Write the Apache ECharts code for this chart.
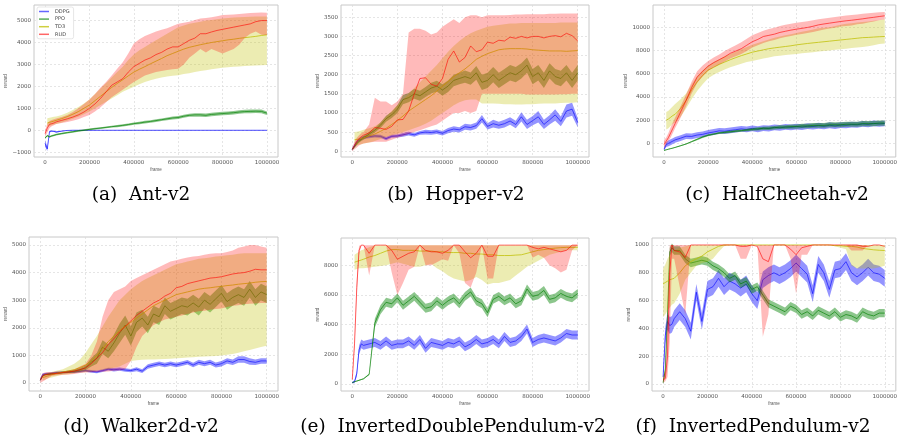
<!DOCTYPE html>
<html><head><meta charset="utf-8">
<script src="https://cdn.jsdelivr.net/npm/echarts@6/dist/echarts.min.js"></script>
<style>html,body{margin:0;padding:0;background:#fff}#c{width:900px;height:439px}</style>
</head><body><div id="c"></div>
<script>
// ---------- shared axes ----------
const X = [0,10000,20000,30000,40000,50000,
  75000,100000,125000,150000,175000,200000,225000,250000,275000,300000,
  325000,350000,375000,400000,425000,450000,475000,500000,525000,550000,
  575000,600000,625000,650000,675000,700000,725000,750000,775000,800000,
  825000,850000,875000,900000,925000,950000,975000,1000000];
const xTicks = [0,200000,400000,600000,800000,1000000];
const algoNames = ['DDPG','PPO','TD3','RUD'];
const captions = ['(a)  Ant-v2','(b)  Hopper-v2','(c)  HalfCheetah-v2','(d)  Walker2d-v2','(e)  InvertedDoublePendulum-v2','(f)  InvertedPendulum-v2'];
const yTicksA = [-1000,0,1000,2000,3000,4000,5000];
const yTicksB = [0,500,1000,1500,2000,2500,3000,3500];
const yTicksC = [0,2000,4000,6000,8000,10000];
const yTicksD = [0,1000,2000,3000,4000,5000];
const yTicksE = [0,2000,4000,6000,8000];
const yTicksF = [0,200,400,600,800,1000];

// ---------- (a) Ant-v2 ----------
const antDdpg = [-600,-850,-60,-40,-50,-80, -40,-10,0,0,0,0,0,0,0,0, 0,0,0,0,0,0,0,0,0,0, 0,0,0,0,0,0,0,0,0,0, 0,0,0,0,0,0,0,0];
const antDdpgDev = [150,100,40,30,30,30, 20,15,8,8,8,8,8,8,8,8, 8,8,8,8,8,8,8,8,8,8, 8,8,8,8,8,8,8,8,8,8, 8,8,8,8,8,8,8,8];
const antPpo = [-350,-250,-300,-260,-230,-200, -150,-110,-70,-30,0,40,70,100,130,160, 190,220,260,300,330,370,400,440,480,520, 560,580,640,680,700,700,680,720,740,760, 780,800,830,850,860,870,860,780];
const antPpoDev = [40,40,40,40,40,40, 40,40,40,40,40,40,40,40,40,40, 50,50,50,50,60,60,60,60,60,60, 70,70,70,70,80,80,80,80,80,80, 80,80,80,80,80,80,80,80];
const antTd3 = [null,330,360,390,420,450, 530,620,730,850,1000,1150,1350,1550,1750,1950, 2130,2300,2480,2650,2780,2900,3030,3150,3270,3400, 3500,3600,3700,3780,3840,3900,3950,4000,4040,4080, 4120,4150,4190,4220,4250,4280,4320,4350];
const antTd3Lo = [null,150,200,230,260,280, 350,430,520,620,730,850,1000,1150,1300,1450, 1600,1750,1870,1980,2100,2200,2280,2350,2400,2450, 2480,2510,2560,2600,2650,2700,2740,2780,2810,2850, 2870,2890,2910,2930,2940,2950,2960,2970];
const antTd3Hi = [null,550,570,590,610,630, 700,800,920,1060,1220,1400,1650,1900,2150,2400, 2650,2900,3200,3450,3650,3800,3950,4100,4250,4400, 4550,4700,4780,4850,4900,4950,5000,5030,5060,5100, 5120,5140,5150,5160,5170,5180,5180,5180];
const antRud = [-150,100,270,300,330,380, 450,520,600,700,830,1000,1200,1450,1750,2050, 2200,2350,2650,2900,3050,3200,3300,3450,3550,3700, 3800,3800,3950,4100,4200,4400,4400,4480,4550,4600, 4650,4700,4750,4800,4850,4950,5000,5000];
const antRudLo = [-300,-100,100,180,230,280, 330,380,430,500,600,700,850,1050,1280,1500, 1680,1850,2030,2200,2350,2500,2580,2650,2700,2750, 2780,2800,3000,3300,3500,3700,3550,3700,3600,3500, 3600,3700,3900,4200,4400,4500,4350,4340];
const antRudHi = [0,300,420,470,500,530, 600,700,830,1000,1200,1400,1650,1950,2200,2500, 2800,3100,3500,3950,4150,4300,4400,4500,4580,4650, 4750,4850,4900,4950,5030,5100,5120,5150,5200,5250, 5270,5280,5300,5320,5340,5360,5370,5360];

// ---------- (b) Hopper-v2 ----------
const hopDdpg = [50,150,250,300,330,360, 380,400,390,330,390,400,430,460,430,480, 500,490,510,470,540,580,560,640,620,670, 850,650,720,680,720,790,700,900,700,800, 900,700,820,950,780,1050,1100,750];
const hopDdpgDev = [30,40,40,40,40,40, 40,40,40,40,40,40,50,50,50,50, 60,60,60,60,70,70,70,80,80,80, 100,80,100,90,100,100,100,120,120,120, 150,120,120,150,130,170,170,120];
const hopPpo = [50,120,200,260,310,350, 450,550,680,850,950,1100,1350,1400,1500,1450, 1550,1650,1700,1600,1700,1850,1900,1950,1900,2050, 1800,1850,2000,1850,1950,2050,2000,2100,2250,1950, 2050,1850,2100,1950,1900,2050,1850,2050];
const hopPpoDev = [20,30,40,40,40,50, 60,60,70,80,80,100,120,120,130,130, 130,140,140,150,150,150,150,160,160,180, 200,200,200,200,200,200,200,200,200,200, 200,200,200,200,200,200,200,200];
const hopTd3 = [null,300,310,320,330,350, 400,450,520,600,700,800,920,1050,1150,1250, 1350,1450,1570,1700,1820,1950,2050,2150,2270,2400, 2480,2550,2600,2650,2670,2680,2680,2680,2670,2650, 2640,2630,2620,2620,2620,2610,2620,2630];
const hopTd3Lo = [null,150,160,170,180,200, 230,270,320,370,420,460,500,550,600,650, 720,800,900,1000,1100,1200,1280,1330,1350,1350, 1250,1250,1250,1240,1230,1230,1220,1220,1230,1230, 1240,1250,1250,1250,1260,1270,1270,1280];
const hopTd3Hi = [null,500,510,520,540,560, 600,650,750,900,1050,1200,1350,1500,1650,1800, 1950,2100,2250,2430,2600,2750,2880,2990,3080,3150, 3200,3250,3280,3300,3320,3340,3340,3350,3350,3350, 3350,3350,3350,3350,3360,3360,3360,3360];
const hopRud = [50,150,250,330,380,420, 480,620,600,570,650,820,830,1050,1500,1900, 1920,1750,1700,1900,2400,2620,2330,2450,2750,2600, 2650,2850,2820,2900,2880,2980,2950,3000,2960,3000, 3000,2960,3000,3020,2990,3080,3020,2880];
const hopRudLo = [0,50,100,150,180,200, 230,250,250,250,300,350,400,450,500,550, 600,650,700,800,900,1000,1000,1050,1000,1050, 1500,1500,1500,1500,1500,1500,1500,1500,1480,1480, 1480,1480,1480,1480,1490,1490,1500,1500];
const hopRudHi = [100,250,350,420,470,500, 700,1400,1300,1300,1200,1300,1500,3100,3200,3200, 3150,3050,3100,3250,3350,3450,3350,3500,3550,3550, 3500,3550,3550,3550,3550,3560,3570,3570,3580,3580, 3580,3580,3590,3590,3600,3600,3600,3600];

// ---------- (c) HalfCheetah-v2 ----------
const hcDdpg = [-500,-100,0,100,200,300, 450,620,600,720,780,900,980,1080,1050,1120, 1180,1250,1200,1300,1220,1320,1280,1380,1330,1420, 1380,1450,1400,1480,1450,1520,1470,1560,1500,1580, 1560,1620,1600,1680,1640,1720,1680,1720];
const hcDdpgDev = [100,200,250,250,250,250, 250,250,250,250,250,250,250,250,250,250, 250,250,250,250,250,250,250,250,250,250, 250,250,250,250,250,250,250,250,250,250, 250,250,250,250,250,250,250,250];
const hcPpo = [-600,-550,-500,-450,-400,-350, -200,-50,150,350,550,700,800,900,950,1000, 1050,1100,1150,1200,1250,1300,1300,1350,1400,1400, 1450,1450,1500,1500,1550,1550,1550,1600,1600,1600, 1650,1650,1650,1700,1700,1700,1750,1750];
const hcPpoDev = [30,30,30,30,30,30, 40,50,60,70,80,80,80,90,100,100, 100,100,110,120,130,140,150,150,160,170, 180,180,190,200,200,200,200,210,210,220, 220,220,220,220,230,230,230,230];
const hcTd3 = [null,2000,2100,2250,2400,2500, 3000,3700,4600,5300,5850,6300,6550,6800,7000,7200, 7380,7550,7700,7850,7950,8050,8150,8220,8280,8340, 8400,8480,8540,8600,8650,8700,8750,8800,8850,8900, 8950,9000,9050,9100,9120,9150,9180,9200];
const hcTd3Lo = [null,1200,1300,1500,1700,1800, 2300,3000,3800,4500,5100,5600,5900,6150,6350,6550, 6700,6850,7000,7100,7200,7300,7400,7500,7550,7600, 7650,7700,7750,7800,7850,7900,7950,8000,8050,8100, 8150,8200,8250,8300,8350,8450,8550,8600];
const hcTd3Hi = [null,2700,2800,3000,3200,3400, 3800,4300,5100,5800,6300,6700,7000,7250,7500,7700, 7900,8100,8300,8500,8650,8800,8950,9100,9200,9300, 9400,9500,9600,9700,9800,9900,9950,10000,10100,10200, 10300,10350,10400,10450,10500,10550,10600,10700];
const hcRud = [-100,200,500,900,1300,1700, 2700,3700,4800,5700,6200,6650,6950,7200,7450,7750, 7950,8150,8450,8750,8950,9200,9300,9400,9550,9650, 9750,9830,9900,9980,10080,10200,10280,10350,10420,10490, 10550,10600,10660,10720,10790,10850,10920,10980];
const hcRudLo = [-400,-100,200,500,900,1300, 2200,3200,4300,5200,5750,6250,6550,6800,7050,7300, 7500,7700,7950,8250,8450,8650,8800,8900,9050,9150, 9250,9350,9420,9500,9580,9700,9800,9880,9950,10050, 10100,10150,10250,10300,10400,10500,10600,10690];
const hcRudHi = [300,500,900,1400,1800,2200, 3200,4200,5300,6200,6700,7100,7400,7650,7950,8200, 8450,8700,9000,9300,9500,9700,9850,9950,10100,10200, 10300,10380,10450,10520,10600,10680,10750,10820,10880,10950, 11000,11050,11100,11150,11200,11250,11280,11300];

// ---------- (d) Walker2d-v2 ----------
const walkDdpg = [100,300,320,330,340,350, 380,390,400,400,420,450,420,400,450,500, 480,500,470,450,500,430,600,650,700,650, 700,650,700,750,650,750,700,750,650,700, 800,750,850,850,780,750,800,800];
const walkDdpgDev = [30,40,40,40,40,40, 40,40,40,40,40,40,50,50,50,50, 60,60,60,60,70,70,80,80,80,80, 80,80,80,80,80,90,90,90,90,100, 100,100,120,120,120,100,100,100];
const walkPpo = [100,250,300,310,320,330, 350,380,400,430,480,550,750,900,1300,1150, 1450,1800,2100,1700,2200,2350,2100,2500,2400,2800, 2600,2700,2800,2750,2900,2750,3000,2850,3050,3250, 2950,3100,3200,3100,3400,3100,3300,3200];
const walkPpoDev = [20,30,30,30,30,30, 30,40,40,50,60,80,150,200,250,250, 300,350,350,350,350,300,300,300,300,300, 300,300,300,300,300,300,300,300,300,300, 300,300,300,300,300,300,300,300];
const walkTd3 = [null,200,220,250,270,300, 350,400,440,480,560,650,800,1000,1250,1500, 1700,1900,2050,2200,2350,2500,2650,2800,2900,3000, 3100,3200,3250,3300,3350,3400,3430,3450,3480,3500, 3530,3550,3580,3600,3620,3650,3670,3680];
const walkTd3Lo = [null,100,120,150,180,200, 250,300,320,350,380,400,420,450,480,500, 550,600,700,800,820,840,850,850,860,870, 880,900,910,920,930,950,960,970,980,1000, 1020,1050,1100,1150,1200,1250,1300,1350];
const walkTd3Hi = [null,300,330,350,380,400, 450,500,600,700,850,1100,1400,1700,2050,2400, 2700,3000,3200,3400,3550,3700,3800,3900,4000,4100, 4200,4300,4350,4400,4450,4500,4520,4550,4580,4600, 4630,4650,4680,4700,4700,4700,4700,4700];
const walkRud = [100,250,300,310,320,330, 350,380,400,430,480,550,700,900,1100,1400, 1600,1850,2050,2250,2450,2600,2750,2900,3000,3150, 3250,3450,3500,3600,3650,3700,3750,3800,3820,3850, 3900,3950,3980,4000,4050,4120,4100,4100];
const walkRudLo = [0,50,100,150,200,250, 280,300,310,330,360,380,390,400,410,420, 440,450,500,800,1300,1700,1900,2100,2200,2300, 2350,2400,2450,2500,2550,2600,2620,2650,2680,2700, 2750,2800,2820,2850,2870,2880,2900,2900];
const walkRudHi = [200,350,380,400,400,400, 420,420,450,500,600,700,1000,1500,2400,3000, 3300,3400,3500,3700,3800,3900,4000,4100,4200,4300, 4400,4450,4500,4550,4580,4600,4650,4680,4700,4700, 4750,4800,4900,4950,5000,5000,4950,4900];

// ---------- (e) InvertedDoublePendulum-v2 ----------
const idpDdpg = [100,150,700,2300,2700,2600, 2700,2800,2600,2900,2600,2700,2700,2900,2600,3000, 2400,2800,2700,2600,2800,2700,2900,2500,2700,3000, 2700,2800,3000,2700,3200,2800,2900,3200,3700,2800, 3000,3100,3000,2900,3100,3400,3300,3300];
const idpDdpgDev = [50,100,200,300,300,300, 300,300,300,300,300,300,300,300,300,300, 300,300,300,300,300,300,300,300,300,300, 300,300,300,300,300,300,300,300,300,300, 300,300,300,300,300,300,300,300];
const idpPpo = [100,150,200,250,300,350, 650,4100,5000,5500,5400,5800,5300,5600,5900,5500, 5100,5200,5600,5300,5600,5800,5400,5900,6200,5600, 5400,4800,5700,5900,5600,5800,5400,5600,6400,5900, 6000,6300,5700,5800,6100,5900,5800,6100];
const idpPpoDev = [20,20,30,30,30,30, 50,300,300,300,300,300,300,300,300,300, 300,300,300,300,300,300,300,300,300,300, 300,300,300,300,300,300,300,300,300,300, 300,300,300,300,300,300,300,300];
const idpTd3 = [null,8200,8250,8300,8350,8400, 8550,8650,8800,8950,9050,9050,9000,9000,9000,8950, 8950,8950,8900,8900,8850,8850,8850,8800,8800,8750, 8750,8700,8700,8650,8650,8650,8680,8700,8800,8900, 9000,9050,9100,9150,9180,9200,9200,9200];
const idpTd3Lo = [null,7700,7750,7800,7800,7800, 7850,7900,7950,8000,8100,8200,8100,8000,7900,7900, 8000,8100,7800,7600,7300,7100,7000,6900,7000,7200, 7000,6700,6800,6800,6900,7000,7300,7600,7900,8100, 8300,8500,8700,8800,8900,9000,9000,9000];
const idpTd3Hi = [null,8700,8800,8900,9000,9050, 9200,9350,9350,9350,9350,9350,9350,9350,9350,9350, 9350,9350,9350,9350,9350,9350,9350,9350,9350,9350, 9350,9350,9350,9350,9350,9350,9350,9350,9350,9350, 9350,9350,9350,9350,9350,9350,9350,9350];
const idpRud = [300,2700,6500,9000,9350,9350, 8800,9350,9350,9350,9000,8400,8600,8800,8900,9350, 9000,8900,8900,8800,9000,9350,9350,8900,8500,8800, 9350,8600,8600,9350,9350,9350,9350,9350,9350,9200, 9100,9200,9100,9000,8900,9000,9350,9350];
const idpRudLo = [200,2400,6000,8700,9350,9350, 7300,9350,9350,9350,7500,6000,6800,7700,7900,9350, 8000,8000,8200,8400,8300,9350,8800,6800,6500,7500, 9350,7100,7100,9350,9350,9350,9350,9350,9350,8500, 8700,8500,8000,7800,7500,7700,9000,9350];
const idpRudHi = [400,3000,7000,9300,9350,9350, 9350,9350,9350,9350,9350,9350,9350,9350,9350,9350, 9350,9350,9350,9350,9350,9350,9350,9350,9350,9350, 9350,9350,9350,9350,9350,9350,9350,9350,9350,9350, 9350,9350,9350,9350,9350,9350,9350,9350];

// ---------- (f) InvertedPendulum-v2 ----------
const ipDdpg = [50,350,450,420,430,470, 520,470,380,660,450,680,700,760,700,740, 720,690,720,650,600,750,780,800,780,800, 830,870,830,790,650,860,800,680,820,830, 880,800,770,800,840,800,790,760];
const ipDdpgDev = [30,60,60,60,60,60, 60,60,60,60,60,60,60,60,60,60, 60,60,60,60,60,60,60,60,60,60, 60,60,60,60,60,60,60,60,60,60, 60,60,60,60,60,60,60,60];
const ipPpo = [10,100,500,950,980,960, 960,900,870,880,890,880,850,830,800,760, 780,720,740,680,700,640,580,560,540,520, 560,540,500,520,490,530,510,490,520,480, 500,490,470,520,500,490,510,510];
const ipPpoDev = [10,30,50,30,30,30, 30,30,30,30,30,30,30,30,30,30, 30,30,30,30,30,30,30,30,30,30, 30,30,30,30,30,30,30,30,30,30, 30,30,30,30,30,30,30,30];
const ipTd3 = [720,730,740,750,755,760, 800,850,880,900,920,950,970,990,1000,1000, 1000,1000,1000,1000,1000,1000,1000,1000,1000,1000, 1000,1000,1000,1000,1000,1000,1000,1000,995,995, 990,990,985,975,970,965,962,960];
const ipTd3Lo = [480,500,530,550,570,580, 650,750,800,850,870,880,900,950,990,1000, 1000,1000,1000,1000,1000,1000,1000,1000,1000,1000, 1000,1000,1000,1000,1000,1000,1000,1000,990,980, 970,850,830,830,830,830,840,850];
const ipTd3Hi = [830,860,900,930,950,960, 980,990,1000,1000,1000,1000,1000,1000,1000,1000, 1000,1000,1000,1000,1000,1000,1000,1000,1000,1000, 1000,1000,1000,1000,1000,1000,1000,1000,1000,1000, 1000,1000,1000,1000,1000,1000,1000,1000];
const ipRud = [30,40,200,800,1000,960, 950,910,1000,1000,1000,1000,1000,1000,1000,1000, 1000,990,990,1000,990,900,880,1000,1000,1000, 970,930,980,990,1000,1000,1000,1000,1000,1000, 1000,1000,1000,990,990,1000,1000,990];
const ipRudLo = [10,20,50,300,900,900, 700,500,1000,1000,1000,1000,1000,1000,1000,1000, 1000,900,900,1000,1000,340,500,1000,1000,1000, 900,650,930,930,1000,1000,1000,1000,1000,1000, 1000,960,960,960,1000,1000,1000,1000];
const ipRudHi = [50,100,500,1000,1000,1000, 1000,1000,1000,1000,1000,1000,1000,1000,1000,1000, 1000,1000,1000,1000,1000,1000,1000,1000,1000,1000, 1000,1000,1000,1000,1000,1000,1000,1000,1000,1000, 1000,1000,1000,1000,1000,1000,1000,1000];

// ---------- layout (styles / positions only) ----------
const panels = [
  {grid:{left:34,top:5,width:244,height:152}, ymin:-1220, ymax:5710, yt:yTicksA, gap:15, cap:[141,195],
   d:[antDdpg,antDdpgDev], p:[antPpo,antPpoDev], t:[antTd3,antTd3Lo,antTd3Hi], r:[antRud,antRudLo,antRudHi]},
  {grid:{left:341,top:5,width:248,height:152}, ymin:-150, ymax:3820, yt:yTicksB, gap:13, cap:[456,195],
   d:[hopDdpg,hopDdpgDev], p:[hopPpo,hopPpoDev], t:[hopTd3,hopTd3Lo,hopTd3Hi], r:[hopRud,hopRudLo,hopRudHi]},
  {grid:{left:653,top:5,width:247,height:152}, ymin:-1170, ymax:11910, yt:yTicksC, gap:15, cap:[777,195],
   d:[hcDdpg,hcDdpgDev], p:[hcPpo,hcPpoDev], t:[hcTd3,hcTd3Lo,hcTd3Hi], r:[hcRud,hcRudLo,hcRudHi]},
  {grid:{left:29,top:237,width:249,height:154}, ymin:-290, ymax:5290, yt:yTicksD, gap:11, cap:[141,427],
   d:[walkDdpg,walkDdpgDev], p:[walkPpo,walkPpoDev], t:[walkTd3,walkTd3Lo,walkTd3Hi], r:[walkRud,walkRudLo,walkRudHi]},
  {grid:{left:341,top:238,width:248,height:153}, ymin:-470, ymax:9830, yt:yTicksE, gap:14, cap:[453,427],
   d:[idpDdpg,idpDdpgDev], p:[idpPpo,idpPpoDev], t:[idpTd3,idpTd3Lo,idpTd3Hi], r:[idpRud,idpRudLo,idpRudHi]},
  {grid:{left:652,top:238,width:248,height:153}, ymin:-50, ymax:1050, yt:yTicksF, gap:12, cap:[753,427],
   d:[ipDdpg,ipDdpgDev], p:[ipPpo,ipPpoDev], t:[ipTd3,ipTd3Lo,ipTd3Hi], r:[ipRud,ipRudLo,ipRudHi]}
];
const lineCol = ['rgba(0,0,255,0.6)','rgba(0,128,0,0.65)','rgba(191,191,0,0.75)','rgba(255,0,0,0.6)'];
const bandCol = ['rgba(0,0,255,0.42)','rgba(0,128,0,0.45)','rgba(191,191,0,0.3)','rgba(255,0,0,0.27)'];
const tickFont = {fontSize:5.5, color:'#555', fontFamily:'DejaVu Sans'};
const fmt = v => v < 0 ? '\u2212' + (-v) : String(v);

function bandSeries(gi, lo, hi, color, z){
  const data = X.map((x,i)=>[x, lo[i], hi[i]]);
  return {
    type:'custom', name:'band'+gi, xAxisIndex:gi, yAxisIndex:gi, z:z, silent:true, clip:true,
    encode:{x:0, y:[1,2]}, data:data,
    renderItem:function(params, api){
      const n = params.dataInsideLength;
      let first = -1;
      for (let j=0;j<n;j++){ if(!isNaN(api.value(1,j))) { first=j; break; } }
      if (params.dataIndexInside !== first) return null;
      const top=[], bot=[];
      for (let j=0;j<n;j++){
        const x=api.value(0,j), l=api.value(1,j), h=api.value(2,j);
        if (isNaN(l)||isNaN(h)) continue;
        top.push(api.coord([x,h])); bot.push(api.coord([x,l]));
      }
      return {type:'polygon', shape:{points: top.concat(bot.reverse())}, style:{fill:color}};
    }
  };
}
function lineSeries(gi, ys, k, z){
  return {type:'line', name:algoNames[k], xAxisIndex:gi, yAxisIndex:gi, z:z, silent:true,
    data:X.map((x,i)=>[x, ys[i]]), showSymbol:false, symbol:'none', animation:false,
    lineStyle:{color:lineCol[k], width:1}, itemStyle:{color:lineCol[k]}};
}

const grids=[], xAxes=[], yAxes=[], series=[], graphics=[];
panels.forEach((P, gi)=>{
  grids.push(Object.assign({show:true, borderColor:'#c8c8c8', borderWidth:1, backgroundColor:'#fff'}, P.grid));
  xAxes.push({type:'value', gridIndex:gi, min:-50000, max:1050000,
    name:'frame', nameLocation:'middle', nameGap:6, nameTextStyle:{fontSize:4.5, color:'#555'},
    axisLine:{show:false}, axisTick:{show:false, customValues:xTicks},
    axisLabel:Object.assign({customValues:xTicks, formatter:fmt, margin:3}, tickFont),
    splitLine:{show:true, lineStyle:{type:[2,2], color:'#dadada', width:0.7}}});
  yAxes.push({type:'value', gridIndex:gi, min:P.ymin, max:P.ymax,
    name:'reward', nameLocation:'middle', nameGap:P.gap, nameTextStyle:{fontSize:4.5, color:'#555'},
    axisLine:{show:false}, axisTick:{show:false, customValues:P.yt},
    axisLabel:Object.assign({customValues:P.yt, formatter:fmt, margin:3}, tickFont),
    splitLine:{show:true, lineStyle:{type:[2,2], color:'#dadada', width:0.7}}});
  const d=P.d, p=P.p;
  const dLo=d[0].map((v,i)=>v==null?null:v-d[1][i]), dHi=d[0].map((v,i)=>v==null?null:v+d[1][i]);
  const pLo=p[0].map((v,i)=>v==null?null:v-p[1][i]), pHi=p[0].map((v,i)=>v==null?null:v+p[1][i]);
  series.push(bandSeries(gi, dLo, dHi, bandCol[0], 1));
  series.push(lineSeries(gi, d[0], 0, 2));
  series.push(bandSeries(gi, pLo, pHi, bandCol[1], 3));
  series.push(lineSeries(gi, p[0], 1, 4));
  series.push(bandSeries(gi, P.t[1], P.t[2], bandCol[2], 5));
  series.push(lineSeries(gi, P.t[0], 2, 6));
  series.push(bandSeries(gi, P.r[1], P.r[2], bandCol[3], 7));
  series.push(lineSeries(gi, P.r[0], 3, 8));
  graphics.push({type:'text', x:P.cap[0], y:P.cap[1], style:{text:captions[gi], fill:'#000',
    font:'18.5px "DejaVu Serif", serif', textAlign:'center', textVerticalAlign:'middle'}});
});

const chart = echarts.init(document.getElementById('c'), null, {renderer:'canvas'});
chart.setOption({
  animation:false,
  backgroundColor:'#fff',
  grid:grids, xAxis:xAxes, yAxis:yAxes, series:series, graphic:graphics,
  legend:{data:algoNames, left:37, top:7, orient:'vertical', icon:'rect', itemWidth:10, itemHeight:1.5,
    itemGap:2.6, padding:[2,4,2,2], backgroundColor:'#fff', borderColor:'#dddddd', borderWidth:0.7, borderRadius:2,
    textStyle:{fontSize:5, color:'#444', fontFamily:'DejaVu Sans', padding:[0,0,0,1]}, selectedMode:false}
});
</script></body></html>
